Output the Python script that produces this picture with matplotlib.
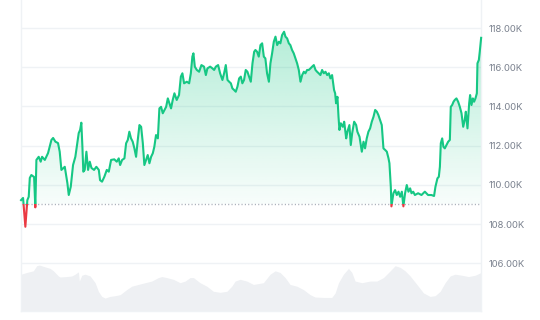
import numpy as np
import matplotlib.pyplot as plt
from matplotlib.patches import Rectangle

# === Price series (thousands USD), split by stretch ===
days_a = [0.00, 0.13, 0.28, 0.41, 0.50, 0.57, 0.67, 0.85, 0.93, 1.00, 1.15, 1.28, 1.37, 1.55, 1.76,
          1.98, 2.09, 2.24, 2.41, 2.52, 2.63, 2.85, 3.02, 3.11, 3.24, 3.39, 3.54, 3.67, 3.76, 3.85,
          3.93, 4.00, 4.06, 4.15, 4.26, 4.37, 4.48, 4.59, 4.76, 4.91]
price_a = [109.22, 109.33, 107.86, 109.22, 109.39, 110.35, 110.50, 110.40, 108.85, 111.27, 111.43,
           111.18, 111.43, 111.27, 111.62, 112.29, 112.39, 112.20, 112.13, 111.69, 110.76, 110.92,
           110.09, 109.48, 109.90, 111.01, 111.43, 112.13, 112.64, 112.80, 113.17, 111.94, 110.67,
           110.76, 111.69, 110.76, 111.18, 110.86, 110.76, 110.92]

days_b = [5.07, 5.15, 5.28, 5.43, 5.59, 5.72, 5.87, 6.08, 6.24, 6.37, 6.46, 6.59, 6.74, 6.85, 6.96,
          7.06, 7.17, 7.28, 7.39, 7.50, 7.61, 7.72, 7.83, 7.94, 8.04, 8.15, 8.26, 8.37, 8.48, 8.59,
          8.69, 8.80, 8.92, 9.02, 9.13, 9.24, 9.35, 9.46, 9.57, 9.67, 9.78, 9.89, 10.00]
price_b = [110.76, 110.24, 110.16, 110.41, 110.76, 110.67, 111.27, 111.30, 111.18, 111.35, 111.01,
           111.27, 111.35, 112.12, 112.29, 112.71, 112.37, 112.20, 111.86, 111.43, 112.29, 113.05,
           112.96, 112.12, 111.01, 111.27, 111.52, 111.10, 111.43, 111.61, 111.94, 112.54, 112.37,
           113.90, 113.98, 113.65, 113.82, 113.98, 114.41, 114.16, 113.90, 114.33, 114.67]

days_c = [10.15, 10.30, 10.42, 10.52, 10.63, 10.81, 10.96, 11.07, 11.17, 11.24, 11.33, 11.46, 11.61,
          11.76, 11.93, 12.05, 12.15, 12.33, 12.48, 12.59, 12.70, 12.85, 12.98, 13.13, 13.24, 13.35,
          13.46, 13.57, 13.68, 13.78, 13.89, 14.00, 14.11, 14.22, 14.33, 14.43, 14.54, 14.65, 14.76,
          14.87, 14.98, 15.09, 15.20]
price_c = [114.33, 114.58, 115.52, 115.69, 115.18, 115.26, 115.18, 115.69, 116.54, 116.71, 116.03,
           115.86, 115.77, 116.11, 116.03, 115.60, 115.94, 116.03, 115.94, 115.86, 116.03, 116.11,
           115.69, 115.35, 115.69, 116.11, 115.35, 115.26, 115.18, 114.92, 114.84, 114.75, 115.01,
           115.43, 115.52, 115.18, 115.35, 115.86, 115.77, 115.52, 115.26, 116.20, 116.79]

days_d = [15.28, 15.39, 15.50, 15.61, 15.72, 15.83, 15.93, 16.04, 16.16, 16.26, 16.37, 16.48, 16.59,
          16.70, 16.81, 16.91, 17.02, 17.15, 17.24, 17.35, 17.46, 17.56, 17.67, 17.78, 17.89, 18.00,
          18.11, 18.22, 18.33, 18.44, 18.54, 18.65, 18.76, 18.87, 18.98, 19.09, 19.20, 19.30, 19.41,
          19.52, 19.63, 19.74, 19.85, 19.96, 20.07, 20.17, 20.28]
price_d = [116.88, 116.79, 116.54, 117.13, 117.22, 116.54, 116.45, 115.69, 115.26, 116.20, 116.71,
           117.30, 117.56, 117.13, 117.30, 117.22, 117.64, 117.81, 117.56, 117.47, 117.22, 117.13,
           116.88, 116.71, 116.45, 116.20, 115.86, 115.26, 115.60, 115.77, 115.69, 115.86, 115.86,
           115.94, 116.03, 116.11, 115.86, 115.77, 115.69, 115.60, 115.86, 115.69, 115.77, 115.60,
           115.69, 115.43, 115.60]

days_e = [20.41, 20.48, 20.54, 20.63, 20.70, 20.76, 20.85, 20.98, 21.07, 21.20, 21.28, 21.41, 21.50,
          21.59, 21.72, 21.85, 21.93, 22.07, 22.22, 22.33, 22.43, 22.54, 22.65, 22.76, 22.87, 22.98,
          23.09, 23.20, 23.30, 23.41, 23.52, 23.63, 23.74, 23.85, 23.96, 24.02, 24.11, 24.15, 24.28,
          24.39, 24.50, 24.61, 24.72, 24.83, 24.93, 25.04, 25.15, 25.26, 25.37]
price_e = [114.84, 114.67, 114.16, 114.49, 113.47, 112.80, 113.14, 112.96, 113.22, 112.37, 112.71,
           113.05, 112.03, 112.63, 113.22, 113.05, 112.71, 112.45, 111.69, 112.20, 111.86, 112.37,
           112.71, 112.88, 113.22, 113.47, 113.82, 113.73, 113.56, 113.31, 113.05, 111.86, 111.78,
           111.69, 111.35, 111.10, 109.90, 108.90, 109.57, 109.73, 109.48, 109.65, 109.39, 109.65,
           108.90, 109.57, 109.99, 109.65, 109.82]

days_f = [25.46, 25.57, 25.68, 25.89, 26.11, 26.33, 26.43, 26.54, 26.76, 26.93, 27.02, 27.15, 27.24,
          27.31, 27.37, 27.46, 27.54, 27.63, 27.74, 27.85, 27.96, 28.02, 28.11, 28.20, 28.28, 28.39,
          28.50, 28.61, 28.72, 28.83, 28.93, 29.00, 29.11, 29.22, 29.28, 29.37, 29.46, 29.54, 29.63,
          29.72, 29.76, 29.85, 29.91, 29.98, 30.00]
price_f = [109.57, 109.65, 109.48, 109.57, 109.48, 109.65, 109.57, 109.48, 109.48, 109.43, 109.90,
           110.33, 110.41, 110.92, 112.12, 112.37, 111.94, 111.86, 112.03, 112.20, 112.29, 113.98,
           114.07, 114.24, 114.33, 114.41, 114.24, 113.98, 113.65, 112.96, 113.31, 113.73, 112.88,
           114.16, 114.58, 114.07, 114.41, 114.24, 114.41, 114.67, 116.20, 116.37, 116.79, 117.39,
           117.50]

open_price = 109.03  # reference (start) price, dotted line

# === Volume (arbitrary units, billions) ===
vol_days = [0.00, 0.37, 0.80, 1.02, 1.19, 1.45, 1.89, 2.11, 2.43, 2.54, 2.98, 3.31, 3.52, 3.74, 3.80,
            3.96, 4.17, 4.50, 4.83, 5.04, 5.26, 5.48, 5.80, 6.13, 6.46, 6.89, 7.22, 7.65, 8.09, 8.52,
            8.95, 9.18, 9.50, 9.93, 10.37, 10.70, 11.02, 11.24, 11.67, 12.11, 12.54, 12.98, 13.42,
            13.74, 13.96, 14.28, 14.72, 15.15, 15.80, 16.24, 16.57, 16.89, 17.22, 17.54, 17.98, 18.41,
            18.85, 19.17, 19.72, 20.26, 20.48, 20.70, 21.02, 21.35, 21.57, 21.78, 22.22, 22.76, 23.20,
            23.63, 24.07, 24.39, 24.72, 25.04, 25.37, 25.81, 26.24, 26.67, 27.00, 27.33, 27.65, 27.98,
            28.30, 28.74, 29.17, 29.61, 30.00]
vol_bn = [36.0, 37.7, 39.3, 44.3, 45.0, 43.7, 41.7, 39.3, 34.3, 33.3, 33.7, 34.3, 36.0, 38.3, 29.3,
          35.0, 36.0, 34.3, 27.7, 19.3, 14.3, 12.7, 14.3, 15.0, 16.0, 21.0, 24.3, 26.0, 27.7, 29.3,
          32.7, 33.7, 32.7, 31.0, 27.7, 29.3, 32.7, 32.7, 27.7, 24.3, 19.3, 18.3, 19.3,
          24.3, 29.3, 31.0, 29.3, 26.0, 27.7, 36.0, 39.3, 37.7, 32.7, 26.0, 24.3, 21.0,
          16.0, 13.7, 13.3, 13.3, 17.7, 27.7, 36.0, 41.7, 37.7, 29.3, 27.7, 29.3, 29.3,
          32.7, 39.3, 44.3, 42.7, 39.3, 34.3, 26.0, 17.7, 14.3, 15.0, 19.3, 27.7, 34.3,
          36.0, 35.0, 33.7, 35.0, 37.7]

y_ticks = [106, 108, 110, 112, 114, 116, 118]

# === Colours ===
up_color = "#16c784"
down_color = "#ea3943"
grid_color = "#eff2f5"
label_color = "#7a818e"

days = np.array(days_a + days_b + days_c + days_d + days_e + days_f)
price = np.array(price_a + price_b + price_c + price_d + price_e + price_f)

plt.rcParams["font.family"] = ["Inter", "DejaVu Sans"]

fig = plt.figure(figsize=(5.4, 3.2), dpi=100)
ax = fig.add_axes([0.039, 0.028, 0.852, 0.972])
ax_vol = ax.twinx()

# === Volume in the background ===
ax_vol.fill_between(vol_days, vol_bn, 0, color="#eef0f3", lw=0)
ax_vol.set_ylim(0, max(vol_bn) / 0.148)
ax_vol.axis("off")
ax_vol.set_zorder(0)
ax.set_zorder(1)
ax.patch.set_visible(False)

x0, x1 = days[0], days[-1]
ylo, yhi = 103.56, 119.43

# === Gradient fills, clipped to the area between the line and the open price ===
def gradient_fill(values, color, a_base, a_far, y_from, y_to):
    poly = ax.fill_between(days, values, open_price, facecolor="none", edgecolor="none")
    rgba = np.zeros((256, 1, 4))
    rgba[..., :3] = plt.matplotlib.colors.to_rgb(color)
    rgba[..., 3] = np.linspace(a_base, a_far, 256).reshape(-1, 1)
    im = ax.imshow(rgba, extent=[x0, x1, y_from, y_to], origin="lower", aspect="auto", zorder=1)
    im.set_clip_path(poly.get_paths()[0], transform=ax.transData)

gradient_fill(np.maximum(price, open_price), up_color, 0.03, 0.32, open_price, price.max())
gradient_fill(np.minimum(price, open_price), down_color, 0.05, 0.20, open_price, price.min())

# === Price line: green above the open price, red below ===
above = Rectangle((x0 - 1, open_price), x1 - x0 + 2, 50, transform=ax.transData)
below = Rectangle((x0 - 1, open_price - 50), x1 - x0 + 2, 50, transform=ax.transData)
ln_up, = ax.plot(days, price, color=up_color, lw=1.5, zorder=3, solid_joinstyle="round")
ln_dn, = ax.plot(days, price, color=down_color, lw=1.5, zorder=3, solid_joinstyle="round")
ln_up.set_clip_path(above)
ln_dn.set_clip_path(below)

ax.axhline(open_price, color="#a7aeb8", lw=1.0, linestyle=(0, (0.8, 1.6)), zorder=2)

# === Axes styling ===
ax.set_xlim(x0, x1)
ax.set_ylim(ylo, yhi)
ax.set_yticks(y_ticks)
ax.set_yticklabels([f"{v:.2f}K" for v in y_ticks])
ax.yaxis.tick_right()
ax.tick_params(axis="y", length=0, pad=5, labelsize=6.8, labelcolor=label_color)
ax.set_xticks([])
ax.grid(axis="y", color=grid_color, lw=1.0)
ax.set_axisbelow(True)
for side in ["left", "right", "bottom"]:
    ax.spines[side].set_color(grid_color)
    ax.spines[side].set_linewidth(1.0)
ax.spines["top"].set_visible(False)

fig.savefig("out.png", dpi=100)
